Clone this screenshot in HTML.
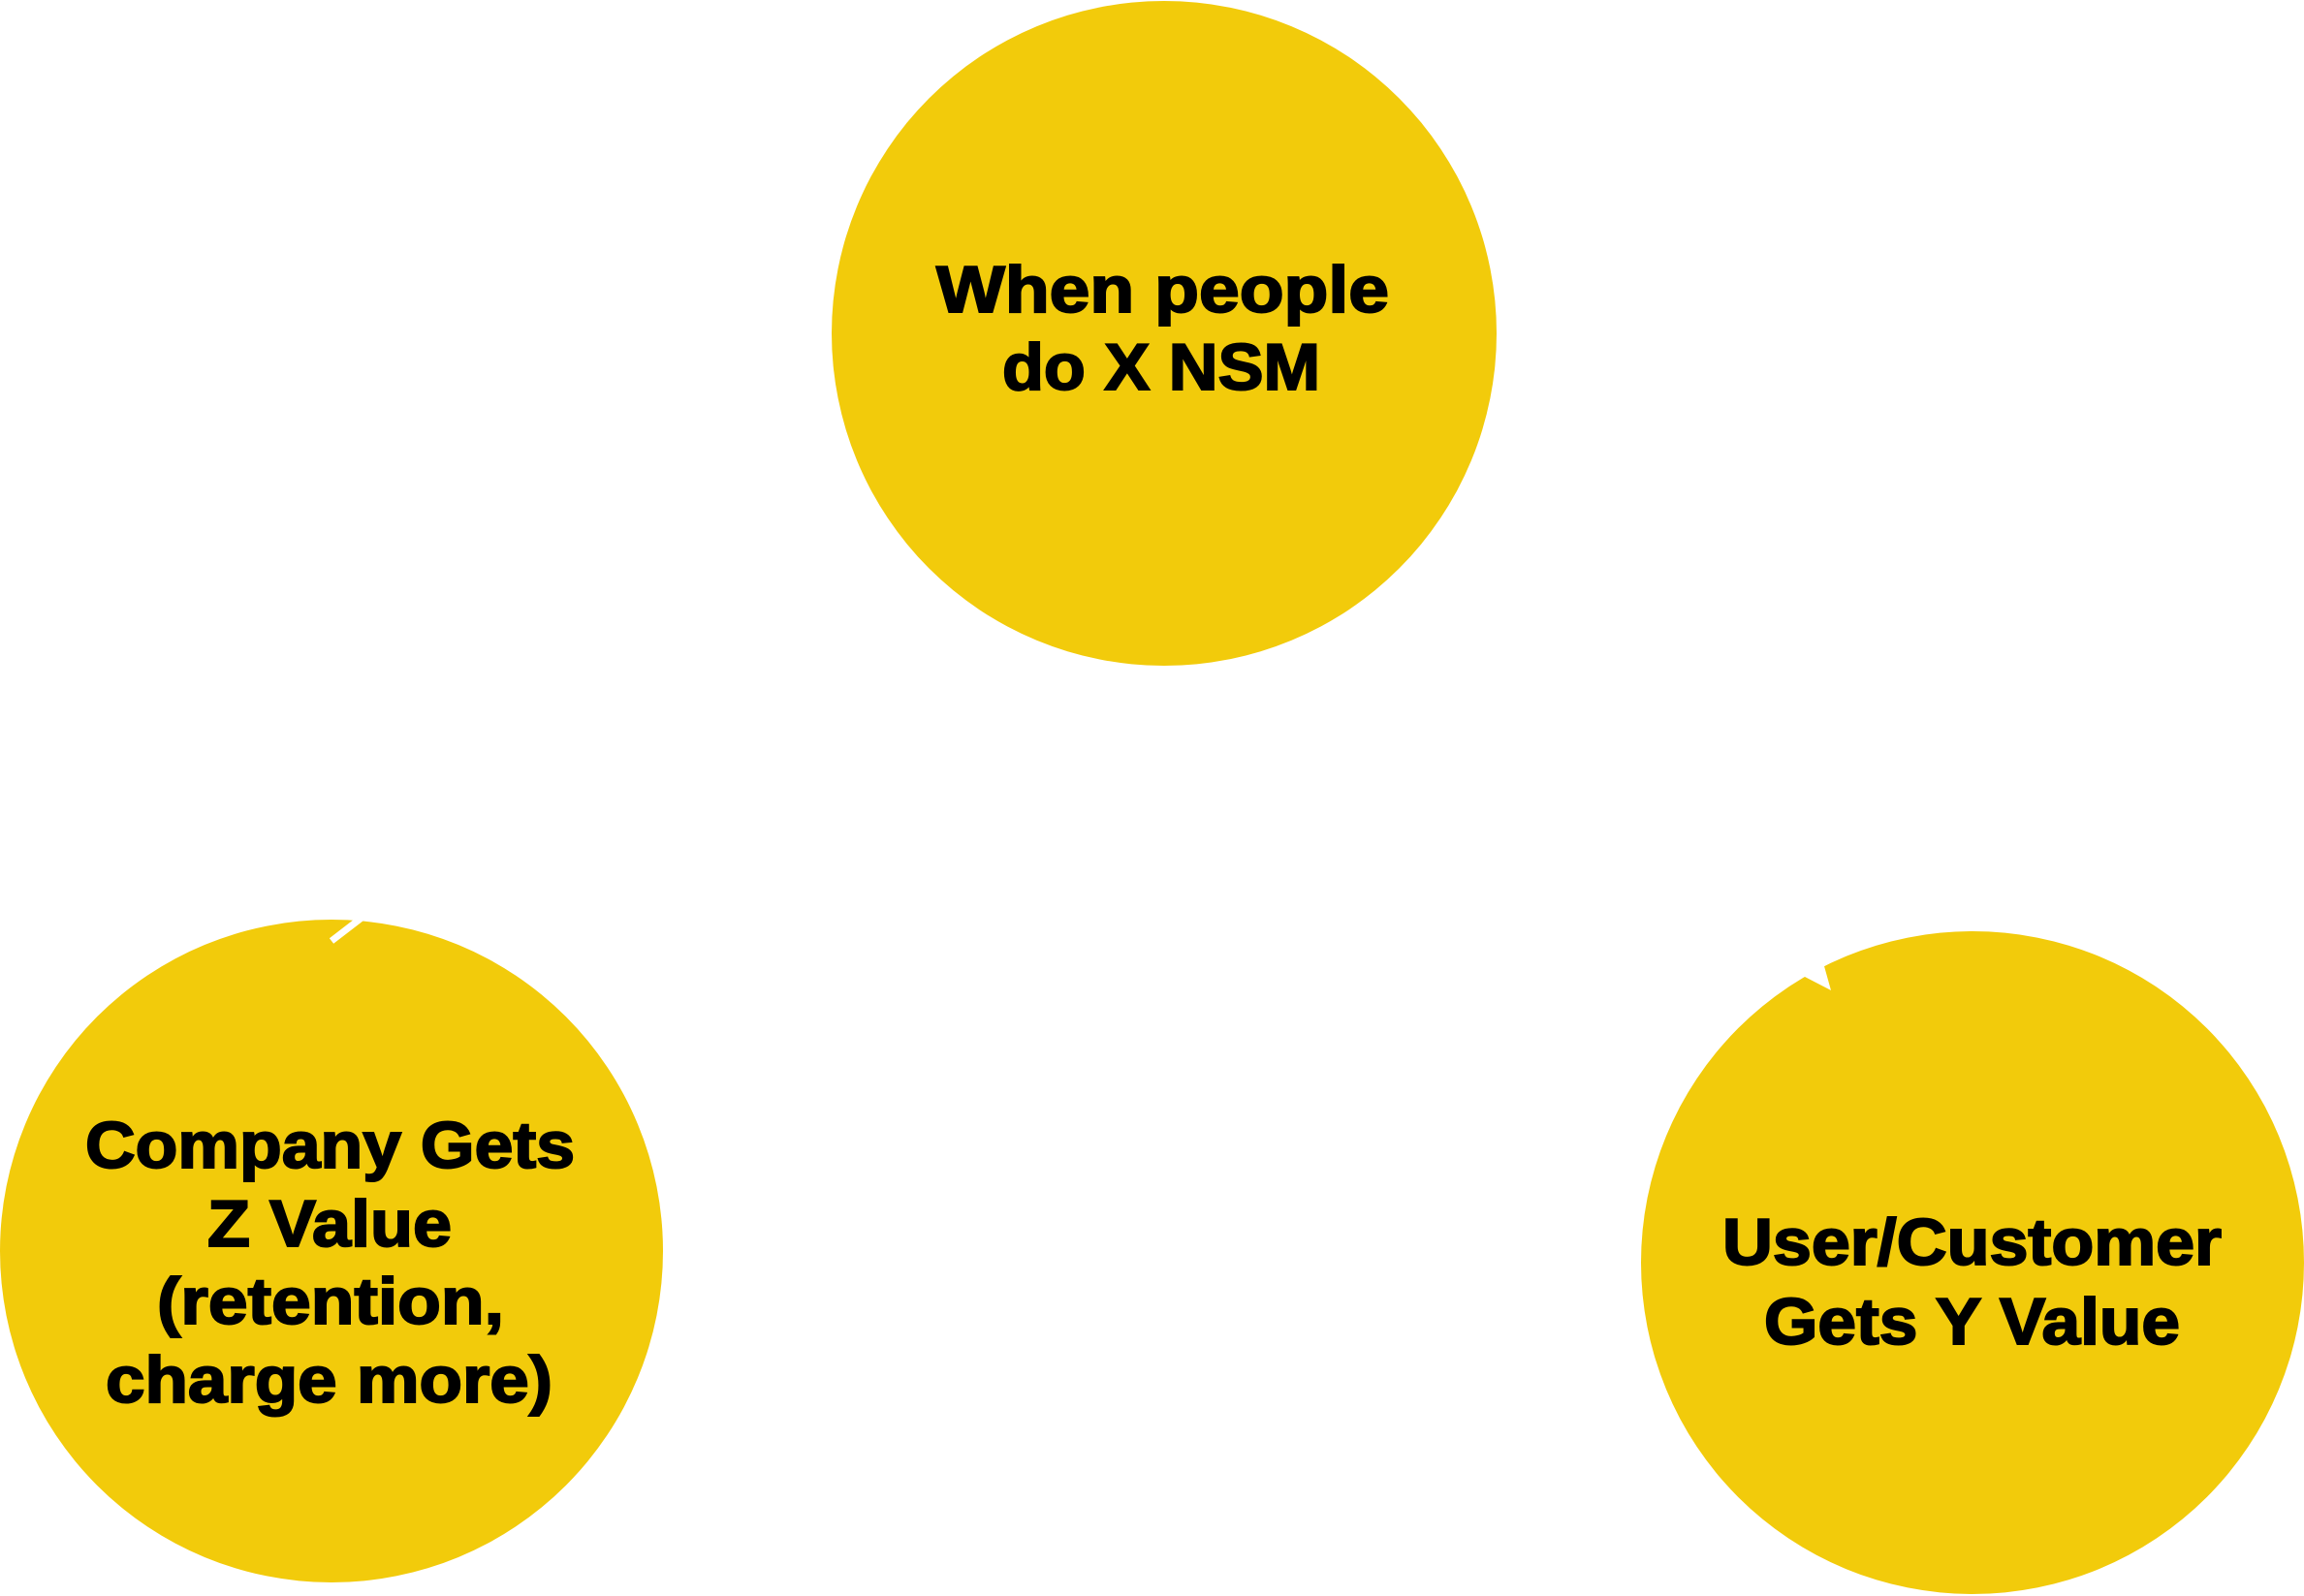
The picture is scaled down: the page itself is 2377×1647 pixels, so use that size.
<!DOCTYPE html>
<html>
<head>
<meta charset="utf-8">
<style>
  html, body { margin: 0; padding: 0; background: #ffffff; }
  body { width: 2377px; height: 1647px; overflow: hidden; }
  svg { display: block; }
  text { font-family: "Liberation Sans", "DejaVu Sans", sans-serif; font-weight: bold; font-size: 68px; fill: #000; stroke: #000; stroke-width: 2px; }
</style>
</head>
<body>
<svg width="2377" height="1647" viewBox="0 0 2377 1647" xmlns="http://www.w3.org/2000/svg">
  <rect x="0" y="0" width="2377" height="1647" fill="#ffffff"/>

  <!-- Top circle -->
  <circle cx="1201" cy="344" r="343" fill="#F2CB0B"/>
  <text x="966" y="322" textLength="467" lengthAdjust="spacingAndGlyphs">When people</text>
  <text x="1034" y="402" textLength="328" lengthAdjust="spacingAndGlyphs">do X NSM</text>

  <!-- Left circle -->
  <circle cx="342" cy="1291" r="342" fill="#F2CB0B"/>
  <text x="88" y="1205" textLength="505" lengthAdjust="spacingAndGlyphs">Company Gets</text>
  <text x="214" y="1286" textLength="252" lengthAdjust="spacingAndGlyphs">Z Value</text>
  <text x="162" y="1366" textLength="358" lengthAdjust="spacingAndGlyphs">(retention,</text>
  <text x="109" y="1447" textLength="461" lengthAdjust="spacingAndGlyphs">charge more)</text>

  <!-- Right circle -->
  <circle cx="2035" cy="1303" r="342" fill="#F2CB0B"/>
  <text x="1777" y="1305" textLength="515" lengthAdjust="spacingAndGlyphs">User/Customer</text>
  <text x="1820" y="1387" textLength="429" lengthAdjust="spacingAndGlyphs">Gets Y Value</text>

  <!-- White connector remnants -->
  <line x1="342" y1="971" x2="390" y2="934" stroke="#ffffff" stroke-width="7"/>
  <polygon points="1862,1008 1889,1022 1882,997 1872,985 1850,990" fill="#ffffff"/>
</svg>
</body>
</html>
